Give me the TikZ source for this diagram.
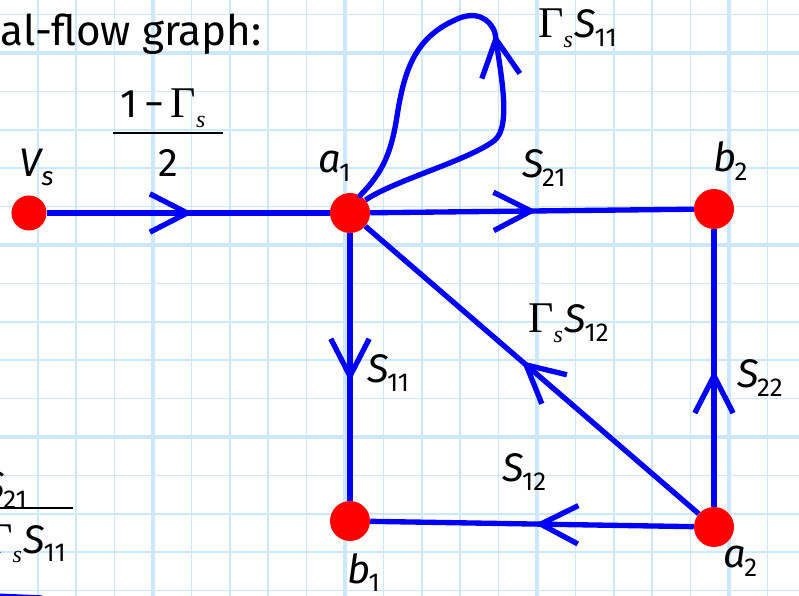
\documentclass[tikz,border=0pt]{standalone}
\usepackage{graphicx}
\usepackage{fontspec}
\setmainfont{Fira Sans}
\newfontfamily\timesfont{Liberation Serif}
\usetikzlibrary{arrows.meta, decorations.markings, positioning}

\definecolor{flowblue}{RGB}{0,0,250}
\definecolor{gridblue}{RGB}{205,232,250}

% variable with subscript, and Gamma_s
\newcommand{\vsub}[2]{\textit{#1}\kern-0.04em\raisebox{-0.4ex}{\scalebox{0.65}{#2}}}
\newcommand{\gams}{\scalebox{1.1}{\timesfont Γ}\raisebox{-0.45ex}{\scalebox{0.6}{\timesfont\itshape s}}\kern0.05em}

\tikzset{chev/.tip={Straight Barb[length=1.12cm, width=1.15cm, sharp]}}

\begin{document}
\begin{tikzpicture}[
    x=0.03cm, y=-0.03cm,
    font=\fontsize{34}{38}\selectfont,
    dot/.style={circle, fill=red, inner sep=0pt, minimum size=1.2cm},
    flow/.style={color=flowblue, draw, line width=0.16cm},
    midarrow/.style={postaction={decorate}, decoration={markings, mark=at position #1 with {\arrow{chev}}}},
    lbl/.style={inner sep=0pt, anchor=base west},
    fracbar/.style={line width=0.06cm},
    gridfine/.style={draw=gridblue, line width=0.045cm},
    gridbold/.style={draw=gridblue, line width=0.1cm}
]
    \useasboundingbox (0,0) rectangle (799,596);
    \clip (0,0) rectangle (799,596);

    % squared paper
    \foreach \k in {-4,...,17}
        \draw[gridfine] ({153+38.4*\k},0) -- ({153+38.4*\k},596);
    \foreach \k in {-1,...,14}
        \draw[gridfine] (0,{53+38.4*\k}) -- (799,{53+38.4*\k});
    \foreach \x in {153,345,537,729}
        \draw[gridbold] (\x,0) -- (\x,596);
    \foreach \y in {53,245,437}
        \draw[gridbold] (0,\y) -- (799,\y);

    \node[lbl, anchor=base east, font=\fontsize{36}{40}\selectfont] (title) at (262,46) {al-flow graph:};

    % nodes
    \node[dot, minimum size=1.05cm] (Vs) at (29,213) {};
    \node[dot] (a1) at (350,213) {};
    \node[dot] (b2) at (714,209) {};
    \node[dot] (b1) at (350,521) {};
    \node[dot] (a2) at (714,527) {};

    % branches
    \draw[flow, midarrow=0.517] (Vs) -- (a1);
    \draw[flow, midarrow=0.515] (a1) -- (b2);
    \draw[flow, midarrow=0.556] (a1) -- (b1);
    \draw[flow, midarrow=0.493] (a2) -- (b2);
    \draw[flow, midarrow=0.531] (a2) -- (a1);
    \draw[flow, midarrow=0.491] (a2) -- (b1);

    % self loop on a1
    \coordinate (looptop) at (495,33);
    \draw[flow, midarrow=0.999] (a1.40) .. controls (395,180) and (470,160) .. (495,140)
        .. controls (512,125) and (500,70) .. (looptop);
    \draw[flow, line cap=round] (looptop) .. controls (490,18) and (475,10) .. (455,20)
        .. controls (415,38) and (405,70) .. (398,110)
        .. controls (392,150) and (385,170) .. (a1.60);

    \coordinate (offA) at (-5,596);
    \coordinate (offB) at (42,598);
    \draw[flow] (offA) -- (offB);

    % labels
    \node[lbl] (lVs) at (19,177) {\vsub{V}{\itshape s}};
    \node[lbl] (la1) at (318,173) {\vsub{a}{1}};
    \node[lbl] (lb2) at (713,172) {\vsub{b}{2}};
    \node[lbl] (lb1) at (347,583) {\vsub{b}{1}};
    \node[lbl] (la2) at (723,568) {\vsub{a}{2}};
    \node[lbl] (lS21) at (522,178) {\vsub{S}{21}};
    \node[lbl] (lS11) at (367,383) {\vsub{S}{11}};
    \node[lbl] (lS22) at (737,388) {\vsub{S}{22}};
    \node[lbl] (lS12) at (502,482) {\vsub{S}{12}};
    \node[lbl] (lloop) at (538,38) {\gams\vsub{S}{11}};
    \node[lbl] (ldiag) at (528,333) {\gams\vsub{S}{12}};

    % input gain
    \node[lbl, anchor=base] (gnum) at (164,118) {1\,−\,\gams};
    \draw[fracbar] (113,133) -- (223,133);
    \node[lbl, anchor=base] (gden) at (168,177) {2};

    % cut-off fraction
    \node[lbl, anchor=base east] (tnum) at (27,500) {\vsub{S}{21}};
    \draw[fracbar] (-5,508) -- (73,508);
    \node[lbl, anchor=base east] (tden) at (66,553) {\gams\vsub{S}{11}};
\end{tikzpicture}
\end{document}
